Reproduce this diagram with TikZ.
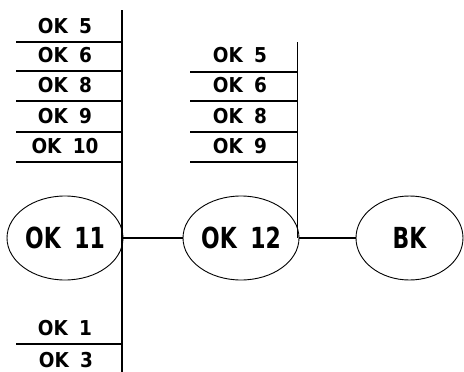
\documentclass[tikz,border=0pt]{standalone}
\usepackage{fontspec}
\setmainfont{DejaVu Sans Condensed}
\usetikzlibrary{shapes.geometric, positioning}

\newcommand{\oktext}[1]{\scalebox{0.84}[1]{#1}}
\newcommand{\okgap}{\hspace{0.55em}}

\begin{document}
\begin{tikzpicture}[x=1pt, y=-1pt,
    okbox/.style={ellipse, draw, line width=0.9pt, minimum width=116pt,
                  minimum height=84pt, inner sep=0pt,
                  font=\bfseries\fontsize{29}{31}\selectfont},
    oklabel/.style={anchor=base, inner sep=0pt,
                    font=\bfseries\fontsize{20.5}{22}\selectfont},
    bus/.style={line width=1.6pt},
    tap/.style={line width=1.1pt}]
    \useasboundingbox (0,0) rectangle (464,372);

    % ellipses
    \node[okbox] (ok11) at (65,238) {\oktext{OK\okgap 11}};
    \node[okbox] (ok12) at (241,238) {\oktext{OK\okgap 12}};
    \node[okbox, minimum width=107pt] (bk) at (409.5,238) {\oktext{BK}};

    % busbars
    \coordinate (bus1top) at (122,10);
    \coordinate (bus1bot) at (122,372);
    \coordinate (bus2top) at (297.5,42);
    \draw[bus] (bus1top) -- (bus1bot);
    \draw[bus] (bus2top) -- (bus2top |- ok12.east);

    % connectors
    \draw[tap] (ok11.east) -- (ok12.west);
    \draw[tap] (ok12.east) -- (bk.west);

    % left taps
    \foreach \name/\txt/\yy in {l5/5/42, l6/6/71, l8/8/101, l9/9/132, l10/10/162, l1/1/344} {
        \coordinate (\name) at (16,\yy);
        \draw[tap] (\name) -- (bus1top |- \name);
        \node[oklabel] (t\name) at (65,\yy-9) {OK\okgap\txt};
    }
    \node[oklabel] (tl3) at (66,367.5) {OK\okgap 3};

    % middle taps
    \foreach \name/\txt/\yy in {m5/5/72, m6/6/101, m8/8/132, m9/9/162} {
        \coordinate (\name) at (190,\yy);
        \draw[tap] (\name) -- (bus2top |- \name);
        \node[oklabel] (t\name) at (240,\yy-9) {OK\okgap\txt};
    }
\end{tikzpicture}
\end{document}
